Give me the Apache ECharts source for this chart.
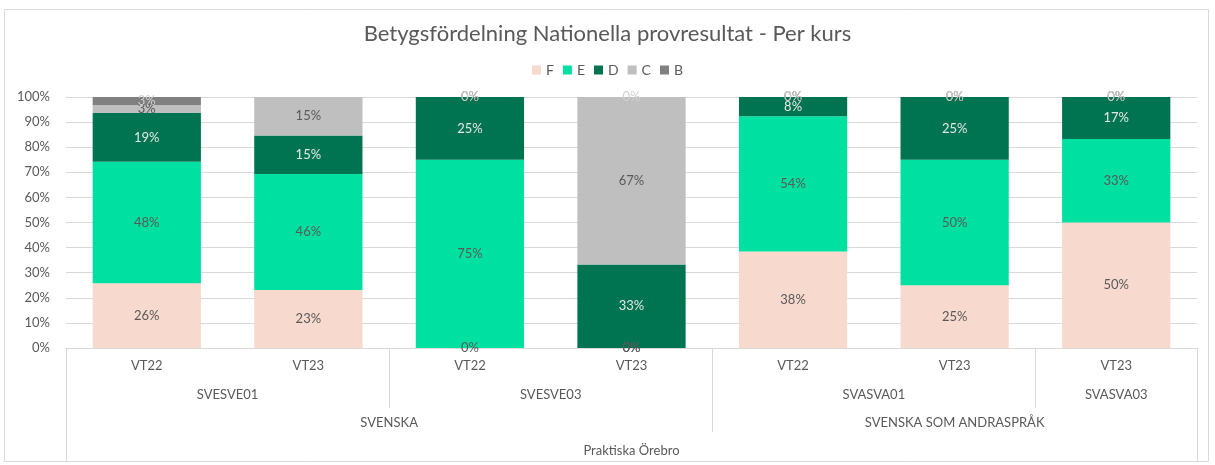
<!DOCTYPE html>
<html>
<head>
<meta charset="utf-8">
<script src="https://cdn.jsdelivr.net/npm/echarts@6/dist/echarts.min.js"></script>
<style>html,body{margin:0;padding:0;background:#fff;}#c{width:1215px;height:465px;}</style>
</head>
<body>
<div id="c"></div>
<script>
// ---- data ----
const periods  = ['VT22','VT23','VT22','VT23','VT22','VT23','VT23'];
const courses  = ['SVESVE01','SVESVE01','SVESVE03','SVESVE03','SVASVA01','SVASVA01','SVASVA03'];
const subjects = ['SVENSKA','SVENSKA','SVENSKA','SVENSKA','SVENSKA SOM ANDRASPRÅK','SVENSKA SOM ANDRASPRÅK','SVENSKA SOM ANDRASPRÅK'];
const schools  = ['Praktiska Örebro','Praktiska Örebro','Praktiska Örebro','Praktiska Örebro','Praktiska Örebro','Praktiska Örebro','Praktiska Örebro'];
const gradeNames = ['F','E','D','C','B'];
const gradeF = [25.8, 23.1, 0, 0, 38.46, 25, 50];
const gradeE = [48.4, 46.2, 75, 0, 53.85, 50, 33.3];
const gradeD = [19.4, 15.4, 25, 33.3, 7.69, 25, 16.7];
const gradeC = [3.2, 15.4, 0, 66.7, 0, 0, 0];
const gradeB = [3.2, 0, 0, 0, 0, 0, 0];
const yTicks = [0,10,20,30,40,50,60,70,80,90,100];

// ---- styles ----
const colors = ['#F8D9CE','#00E0A0','#007450','#BFBFBF','#808080'];
const labelColors = ['#595959','#595959','#E6E6E6','#595959','#D0D0D0'];
const FONT = 'Lato, "DejaVu Sans", sans-serif';
const lineCol = '#D9D9D9';

function spans(arr){
  const out = []; let s = 0;
  for (let i = 1; i <= arr.length; i++) {
    if (i === arr.length || arr[i] !== arr[s]) { out.push({name: arr[s], start: s, end: i}); s = i; }
  }
  return out;
}
function levelAxis(arr, tickLen, margin){
  const sp = spans(arr);
  const bounds = [0]; sp.forEach(g => bounds.push(g.end));
  const centers = sp.map(g => (g.start + g.end) / 2);
  return {
    type: 'value', gridIndex: 0, position: 'bottom', offset: 0,
    min: 0, max: arr.length,
    axisLine: {show: false}, splitLine: {show: false},
    axisTick: {show: true, customValues: bounds, length: tickLen, lineStyle: {color: lineCol}},
    axisLabel: {show: true, customValues: centers, margin: margin, color: '#595959', fontSize: 13, fontFamily: FONT,
      formatter: v => { const g = sp.find(x => Math.abs((x.start + x.end)/2 - v) < 1e-6); return g ? g.name : ''; }}
  };
}

const seriesData = [gradeF, gradeE, gradeD, gradeC, gradeB];
const chart = echarts.init(document.getElementById('c'));
chart.setOption({
  backgroundColor: '#fff',
  animation: false,
  color: colors,
  title: {text: 'Betygsfördelning Nationella provresultat - Per kurs', left: 'center', top: 18,
    textStyle: {fontFamily: FONT, fontSize: 22, fontWeight: 'normal', color: '#595959'}},
  legend: {top: 58, left: 'center', icon: 'rect', itemWidth: 9, itemHeight: 9, itemGap: 9,
    textStyle: {fontFamily: FONT, fontSize: 14, color: '#595959'}, data: gradeNames},
  grid: {left: 66, right: 18, top: 97, bottom: 117, containLabel: false},
  graphic: [{type: 'rect', shape: {x: 4.5, y: 9.5, width: 1204, height: 452}, style: {fill: 'none', stroke: lineCol, lineWidth: 1}, silent: true}],
  xAxis: [
    {type: 'category', data: periods, gridIndex: 0, position: 'bottom',
      axisLine: {lineStyle: {color: lineCol}}, axisTick: {show: false},
      axisLabel: {color: '#595959', fontSize: 13, fontFamily: FONT, margin: 11, interval: 0}},
    levelAxis(courses, 60, 40),
    levelAxis(subjects, 84, 68),
    levelAxis(schools, 114, 96)
  ],
  yAxis: {type: 'value', min: yTicks[0], max: yTicks[yTicks.length-1], interval: 10,
    axisLine: {show: false}, axisTick: {show: false},
    splitLine: {lineStyle: {color: lineCol}},
    axisLabel: {formatter: '{value}%', color: '#595959', fontSize: 13, fontFamily: FONT, margin: 16}},
  series: gradeNames.map((n, i) => ({
    name: n, type: 'bar', stack: 'total', xAxisIndex: 0, barWidth: '67%',
    data: seriesData[i],
    itemStyle: {color: colors[i]},
    label: {show: true, position: 'inside', formatter: p => Math.round(p.value) + '%',
      color: labelColors[i], fontSize: 13, fontFamily: FONT}
  }))
});
</script>
</body>
</html>
